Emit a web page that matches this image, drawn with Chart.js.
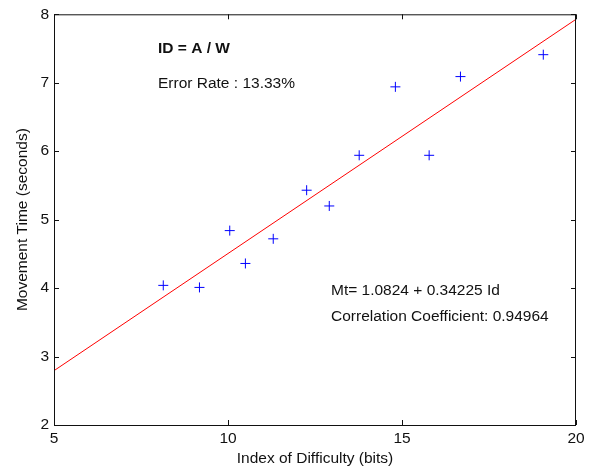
<!DOCTYPE html>
<html>
<head>
<meta charset="utf-8">
<script src="https://cdn.jsdelivr.net/npm/chart.js@4"></script>
<style>
  body { margin: 0; background: #fff; }
</style>
</head>
<body>
<canvas id="fittsChart" width="590" height="470"></canvas>
<script>
// measured trials: index of difficulty vs. movement time
var difficulty = [8.14, 9.18, 10.05, 10.5, 11.3, 12.26, 12.91, 13.77, 14.81, 15.78, 16.68, 19.06];
var movementTime = [4.04, 4.01, 4.84, 4.36, 4.72, 5.43, 5.2, 5.94, 6.94, 5.94, 7.09, 7.41];

// regression line Mt = a + b * Id
var fitIntercept = 1.0824;
var fitSlope = 0.34225;
var fitRange = [5, 20];

var xTicks = [5, 10, 15, 20];
var yTicks = [2, 3, 4, 5, 6, 7, 8];

var titleText = 'ID = A / W';
var errorText = 'Error Rate : 13.33%';
var equationText = 'Mt= 1.0824 + 0.34225 Id';
var correlationText = 'Correlation Coefficient: 0.94964';

var points = difficulty.map(function (d, i) {
  return { x: d, y: movementTime[i] };
});
var fitLine = fitRange.map(function (d) {
  return { x: d, y: fitIntercept + fitSlope * d };
});

var fontFamily = '"Liberation Sans", Arial, sans-serif';

// matlab style box with inward ticks + the text annotations
var matlabBox = {
  id: 'matlabBox',
  afterDraw: function (chart) {
    var ctx = chart.ctx;
    var area = chart.chartArea;
    var xs = chart.scales.x;
    var ys = chart.scales.y;
    var tick = 5;

    ctx.save();
    ctx.strokeStyle = '#111';
    ctx.lineWidth = 1;
    ctx.strokeRect(area.left + 0.5, area.top + 0.5, area.right - area.left - 1, area.bottom - area.top);

    ctx.beginPath();
    xTicks.forEach(function (v) {
      var px = Math.round(xs.getPixelForValue(v)) + 0.5;
      ctx.moveTo(px, area.bottom);
      ctx.lineTo(px, area.bottom - tick);
      ctx.moveTo(px, area.top);
      ctx.lineTo(px, area.top + tick);
    });
    yTicks.forEach(function (v) {
      var py = Math.round(ys.getPixelForValue(v)) + 0.5;
      ctx.moveTo(area.left, py);
      ctx.lineTo(area.left + tick, py);
      ctx.moveTo(area.right, py);
      ctx.lineTo(area.right - tick, py);
    });
    ctx.stroke();

    ctx.fillStyle = '#111';
    ctx.textBaseline = 'alphabetic';
    ctx.textAlign = 'left';
    ctx.font = 'bold 15.5px ' + fontFamily;
    ctx.fillText(titleText, 158, 53);
    ctx.font = '15.5px ' + fontFamily;
    ctx.fillText(errorText, 158, 88);
    ctx.fillText(equationText, 331, 295);
    ctx.fillText(correlationText, 331, 321);
    ctx.restore();
  }
};

var config = {
  type: 'scatter',
  data: {
    datasets: [
      {
        label: 'Trials',
        data: points,
        pointStyle: 'cross',
        pointRadius: 5,
        pointBorderWidth: 1,
        borderColor: '#0000ff',
        backgroundColor: '#0000ff',
        showLine: false,
      },
      {
        label: 'Fit',
        data: fitLine,
        showLine: true,
        pointRadius: 0,
        borderColor: '#ff0000',
        borderWidth: 1,
      },
    ],
  },
  options: {
    responsive: false,
    animation: false,
    layout: { padding: { left: 0, right: 14, top: 14, bottom: 0 } },
    plugins: {
      legend: { display: false },
      tooltip: { enabled: false },
    },
    scales: {
      x: {
        type: 'linear',
        min: 5,
        max: 20,
        afterBuildTicks: function (scale) {
          scale.ticks = xTicks.map(function (v) { return { value: v }; });
        },
        afterFit: function (scale) { scale.height = 45; },
        grid: { display: false, drawTicks: false },
        border: { display: false },
        ticks: { padding: 4, color: '#111', font: { family: fontFamily, size: 15.5 } },
        title: {
          display: true,
          text: 'Index of Difficulty (bits)',
          color: '#111',
          padding: { top: 0, bottom: 2 },
          font: { family: fontFamily, size: 15.5 },
        },
      },
      y: {
        type: 'linear',
        min: 2,
        max: 8,
        afterBuildTicks: function (scale) {
          scale.ticks = yTicks.map(function (v) { return { value: v }; });
        },
        afterFit: function (scale) { scale.width = 54; },
        grid: { display: false, drawTicks: false },
        border: { display: false },
        ticks: { padding: 5, color: '#111', font: { family: fontFamily, size: 15.5 } },
        title: {
          display: true,
          text: 'Movement Time (seconds)',
          color: '#111',
          padding: { top: 13, bottom: 0 },
          font: { family: fontFamily, size: 15.5 },
        },
      },
    },
  },
  plugins: [matlabBox],
};

var chart = new Chart(document.getElementById('fittsChart'), config);
</script>
</body>
</html>
